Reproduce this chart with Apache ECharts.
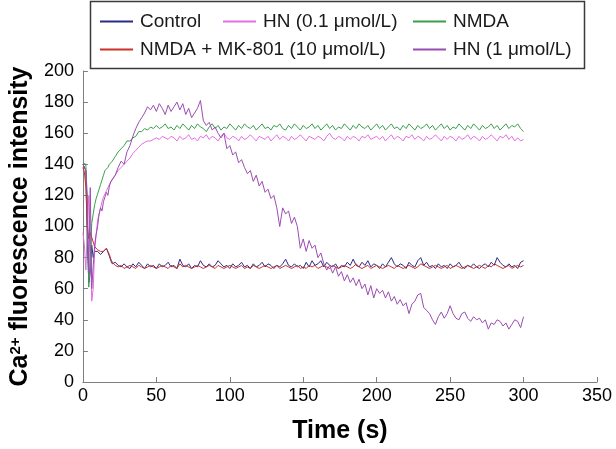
<!DOCTYPE html>
<html>
<head>
<meta charset="utf-8">
<script src="https://cdn.jsdelivr.net/npm/echarts@6/dist/echarts.min.js"></script>
<style>html,body{margin:0;padding:0;background:#fff;}#c{width:616px;height:449px;}</style>
</head>
<body>
<div id="c"></div>
<script>
// Sample times (s): 1 s steps for the first 20 s, then 2 s steps
const timeEarly = [0,1,2,3,4,5,6,7,8,9,10,11,12,13,14,15,16,17,18,19,20];
const timeLate = [
 22,24,26,28,30,32,34,36,38,40, 42,44,46,48,50,52,54,56,58,60,
 62,64,66,68,70,72,74,76,78,80, 82,84,86,88,90,92,94,96,98,100,
 102,104,106,108,110,112,114,116,118,120, 122,124,126,128,130,132,134,136,138,140,
 142,144,146,148,150,152,154,156,158,160, 162,164,166,168,170,172,174,176,178,180,
 182,184,186,188,190,192,194,196,198,200, 202,204,206,208,210,212,214,216,218,220,
 222,224,226,228,230,232,234,236,238,240, 242,244,246,248,250,252,254,256,258,260,
 262,264,266,268,270,272,274,276,278,280, 282,284,286,288,290,292,294,296,298,300];
const times = timeEarly.concat(timeLate);

const seriesNames = ['Control','HN (0.1 \u03bcmol/L)','NMDA','NMDA + MK-801 (10 \u03bcmol/L)','HN (1 \u03bcmol/L)'];
const seriesColors = ['#2b2a86','#e46de2','#3a9e4c','#cc3029','#9a4cb0'];

const control = [140,139,136,90,64,70,88,80,84,85,84,83,82,83,84,85,86,85,81,78,76,
 77,75,74,76,74,73,76,74,77,75, 73,76,74,75,73,76,74,75,77,74,
 75,73,79,75,74,76,73,75,74,78, 75,74,76,74,75,78,76,74,75,73,
 76,74,75,77,74,75,73,76,74,75, 77,74,76,75,73,75,74,76,79,75,
 74,76,74,75,73,77,74,78,75,76, 78,74,77,75,74,76,73,75,74,77,
 75,79,75,74,77,75,78,74,76,75, 73,76,74,77,80,76,74,76,75,73,
 77,75,74,78,80,75,77,74,75,73, 76,74,75,73,76,74,75,77,74,73,
 75,74,76,74,73,75,76,74,77,75, 80,77,75,74,76,74,75,73,77,78];

const hn01 = [96,88,72,100,120,90,52,60,85,95,104,108,112,116,119,121,123,125,127,128,130,
 133,136,138,140,142,144,147,149,151,153, 154,155,155,156,157,156,158,157,156,158,
 157,155,158,156,157,159,156,157,155,158, 157,159,156,158,157,155,158,160,157,156,
 158,157,155,158,156,157,159,157,155,158, 157,156,158,155,157,159,156,158,157,155,
 158,156,157,159,157,155,158,157,156,158, 157,155,158,160,157,156,158,157,155,158,
 156,158,157,155,158,157,159,156,157,158, 156,158,155,157,159,156,158,157,155,158,
 157,159,156,158,157,155,158,156,157,159, 157,155,158,156,158,157,155,158,156,157,
 159,156,158,157,155,158,156,157,159,157, 155,158,157,159,156,158,155,157,155,156];

const nmda = [141,142,140,100,61,80,102,108,114,118,121,124,127,130,133,136,137,138,140,141,142,
 145,148,150,152,155,155,157,158,161,161, 163,162,164,163,165,163,164,166,163,164,
 162,165,163,166,164,162,165,163,166,164, 163,161,164,166,163,165,162,164,163,166,
 164,162,165,163,166,164,163,165,162,164, 166,163,164,162,165,164,166,163,162,165,
 163,166,164,162,165,163,164,166,163,165, 162,164,166,163,165,162,164,163,166,164,
 162,165,163,166,164,163,165,162,164,166, 163,165,162,164,166,163,164,162,165,163,
 166,164,162,165,163,164,166,163,165,162, 164,166,163,165,162,164,163,166,164,162,
 165,163,166,164,162,165,163,164,166,163, 165,162,164,166,163,165,164,166,163,161];

const nmdaMk801 = [138,135,125,100,92,96,95,90,87,86,85,84,84,83,84,85,86,85,82,79,77,
 75,74,75,73,74,75,74,73,75,74, 73,74,75,74,73,74,75,74,73,75,
 74,73,76,74,75,74,73,74,75,74, 73,74,75,74,73,75,74,73,74,75,
 74,73,74,75,73,74,73,75,74,73, 74,75,74,73,74,75,73,74,75,74,
 73,74,75,73,74,73,75,74,75,73, 74,75,74,73,75,74,73,74,75,74,
 73,74,76,74,73,74,75,73,74,75, 74,73,74,75,74,73,75,74,73,74,
 75,74,73,74,76,75,74,73,74,75, 74,73,74,75,73,74,75,74,73,74,
 75,74,73,74,75,74,73,75,74,76, 75,74,73,74,75,73,74,75,74,75];

const hn1 = [140,138,136,120,70,125,60,75,88,95,100,108,112,110,116,119,122,120,126,129,128,
 133,138,142,140,148,152,158,163,167,170, 173,177,175,178,174,179,176,172,178,174,
 177,180,175,179,172,176,170,173,176,181, 168,165,167,162,164,160,157,160,150,152,
 146,148,141,143,138,134,136,129,133,126, 129,122,124,118,120,112,100,112,108,110,
 102,106,100,86,92,84,91,86,88,80, 83,76,72,75,70,74,68,71,65,69,
 64,67,62,66,60,63,56,62,54,60, 57,59,54,58,52,55,50,53,49,51,
 44,50,52,56,57,48,46,44,40,37, 42,45,41,44,49,44,41,40,44,45,
 41,39,42,40,41,38,40,34,38,37, 40,39,36,38,34,37,40,39,35,42];

const yTicks = {min:0, max:200, interval:20};
const xTicks = {min:0, max:350, interval:50};

const values = [control, hn01, nmda, nmdaMk801, hn1];
const FONT = 'Liberation Sans, Arial, sans-serif';

const series = values.map((arr, i) => ({
  name: seriesNames[i],
  type: 'line',
  data: times.map((t, k) => [t, arr[k]]),
  showSymbol: false,
  symbol: 'none',
  lineStyle: {width: 1, color: seriesColors[i]},
  itemStyle: {color: seriesColors[i]},
  animation: false,
  z: 2 + i
}));

const legendPos = [
  {left: 100, top: 12},
  {left: 223, top: 12},
  {left: 413, top: 12},
  {left: 100, top: 40},
  {left: 413, top: 40}
];
const legends = legendPos.map((p, i) => ({
  data: [seriesNames[i]],
  left: p.left, top: p.top, padding: 0,
  icon: 'rect', itemWidth: 33, itemHeight: 2,
  textStyle: {fontSize: 19, color: '#1a1a1a', fontFamily: FONT, padding: [0,0,0,2]},
  selectedMode: false
}));

const chart = echarts.init(document.getElementById('c'), null, {renderer: 'canvas'});
chart.setOption({
  animation: false,
  backgroundColor: '#fff',
  grid: {left: 76, right: 19, top: 71, bottom: 67, containLabel: false},
  legend: legends,
  graphic: [{
    type: 'rect', shape: {x: 90.5, y: 1.5, width: 494, height: 67},
    style: {fill: 'none', stroke: '#3a3a3a', lineWidth: 1.5}, z: 0, silent: true
  }],
  xAxis: {
    type: 'value', min: xTicks.min, max: xTicks.max, interval: xTicks.interval,
    name: 'Time (s)', nameLocation: 'middle', nameGap: 37,
    nameTextStyle: {fontSize: 25, fontWeight: 'bold', color: '#000', fontFamily: FONT},
    axisLine: {lineStyle: {color: '#7f7f7f', width: 1}},
    axisTick: {inside: true, length: 5, lineStyle: {color: '#7f7f7f'}},
    axisLabel: {fontSize: 18, color: '#000', fontFamily: FONT, margin: 5},
    splitLine: {show: false}
  },
  yAxis: {
    type: 'value', min: yTicks.min, max: yTicks.max, interval: yTicks.interval,
    name: '{a|Ca}{s|2+}{a| fluorescence intensity}', nameLocation: 'middle', nameGap: 49,
    nameTextStyle: {fontSize: 25, fontWeight: 'bold', color: '#000', fontFamily: FONT,
      rich: {
        a: {fontSize: 25, fontWeight: 'bold', color: '#000', fontFamily: FONT},
        s: {fontSize: 15, fontWeight: 'bold', color: '#000', fontFamily: FONT, verticalAlign: 'top'}
      }},
    axisLine: {show: true, lineStyle: {color: '#7f7f7f', width: 1}},
    axisTick: {show: true, inside: true, length: 5, lineStyle: {color: '#7f7f7f'}},
    axisLabel: {fontSize: 18, color: '#000', fontFamily: FONT, margin: 9},
    splitLine: {show: false}
  },
  series: series
});
</script>
</body>
</html>
